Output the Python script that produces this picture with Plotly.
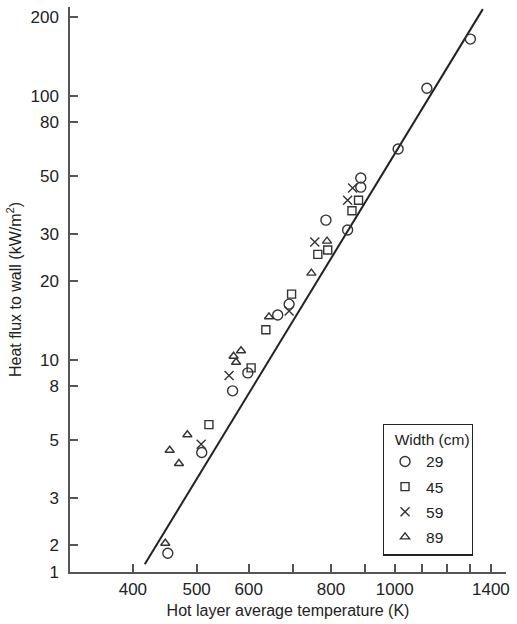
import plotly.graph_objects as go
import numpy as np

# ---- data ----
w29_T = [452, 509, 567, 598, 664, 691, 786, 848, 888, 888, 1012, 1119, 1303]
w29_q = [1.86, 4.48, 7.67, 8.97, 14.85, 16.33, 33.98, 31.2, 45.3, 49.1, 63.2, 107.4, 164.8]

w45_T = [522, 605, 637, 697, 764, 791, 861, 881]
w45_q = [5.71, 9.37, 13.07, 17.82, 25.2, 26.2, 36.9, 40.4]

w59_T = [508, 560, 691, 756, 848, 863]
w59_q = [4.81, 8.76, 15.4, 28.1, 40.4, 45.0]

w89_T = [448, 455, 470, 484, 569, 574, 584, 644, 747, 789]
w89_q = [2.03, 4.57, 4.07, 5.23, 10.37, 9.84, 10.88, 14.63, 21.4, 28.3]

fit_T = [417, 1361]
fit_q = [1.69, 214]

series_names = ["29", "45", "59", "89"]
series_symbols = ["circle-open", "square-open", "x-thin-open", "triangle-up-open"]
series_sizes = [10, 8, 9, 8]

x_range = [321, 1476]
y_range = [1.58, 218]

x_tick_vals = [400, 500, 600, 800, 1000, 1400]
x_tick_text = ["400", "500", "600", "800", "1000", "1400"]
x_minor_vals = [700, 900, 1100, 1200, 1300]
y_tick_vals = [1.58, 2, 3, 5, 8, 10, 20, 30, 50, 80, 100, 200]
y_tick_text = ["1", "2", "3", "5", "8", "10", "20", "30", "50", "80", "100", "200"]

ink = "#333333"
txt = "#222222"
axc = "#555555"
FONT = "Liberation Sans, Arial, sans-serif"

fig = go.Figure()

fig.add_trace(go.Scatter(x=fit_T, y=fit_q, mode="lines",
                         line=dict(color="#222222", width=2),
                         showlegend=False, hoverinfo="skip"))

all_T = [w29_T, w45_T, w59_T, w89_T]
all_q = [w29_q, w45_q, w59_q, w89_q]
for name, sym, sz, T, q in zip(series_names, series_symbols, series_sizes, all_T, all_q):
    fig.add_trace(go.Scatter(
        x=T, y=q, mode="markers", name=name, legendgroup=name,
        marker=dict(symbol=sym, size=sz, color=ink, line=dict(color=ink, width=1.4)),
    ))

axis_common = dict(
    showline=True, linecolor=axc, linewidth=1.5,
    ticks="inside", ticklen=8, tickwidth=1.5, tickcolor=axc,
    showgrid=False, zeroline=False, mirror=False,
    tickfont=dict(family=FONT, size=17, color=txt),
)

fig.update_xaxes(type="log", range=[np.log10(x_range[0]), np.log10(x_range[1])],
                 tickmode="array", tickvals=x_tick_vals, ticktext=x_tick_text,
                 minor=dict(tickmode="array", tickvals=x_minor_vals, ticks="inside",
                            ticklen=8, tickwidth=1.5, tickcolor=axc, showgrid=False),
                 title=dict(text="Hot layer average temperature (K)",
                            font=dict(family=FONT, size=16, color=txt), standoff=7),
                 ticklabelstandoff=1,
                 **axis_common)
fig.update_yaxes(type="log", range=[np.log10(y_range[0]), np.log10(y_range[1])],
                 tickmode="array", tickvals=y_tick_vals, ticktext=y_tick_text,
                 title=dict(text="Heat flux to wall (kW/m<sup>2</sup>)",
                            font=dict(family=FONT, size=16, color=txt), standoff=5),
                 ticklabelstandoff=6,
                 **axis_common)

fig.update_layout(
    width=517, height=624,
    margin=dict(l=70, r=7, t=7, b=50, pad=0),
    paper_bgcolor="white", plot_bgcolor="white",
    font=dict(family=FONT, size=15, color=txt),
    legend=dict(
        title=dict(text="\u00a0\u00a0Width (cm)",
                   font=dict(family=FONT, size=15.5, color=txt)),
        x=0.7175, y=0.2628, xanchor="left", yanchor="top",
        bordercolor="#222222", borderwidth=1.2, bgcolor="white",
        font=dict(family=FONT, size=15.5, color=txt),
        tracegroupgap=2, itemwidth=32,
    ),
)

fig.write_html("out.html")
